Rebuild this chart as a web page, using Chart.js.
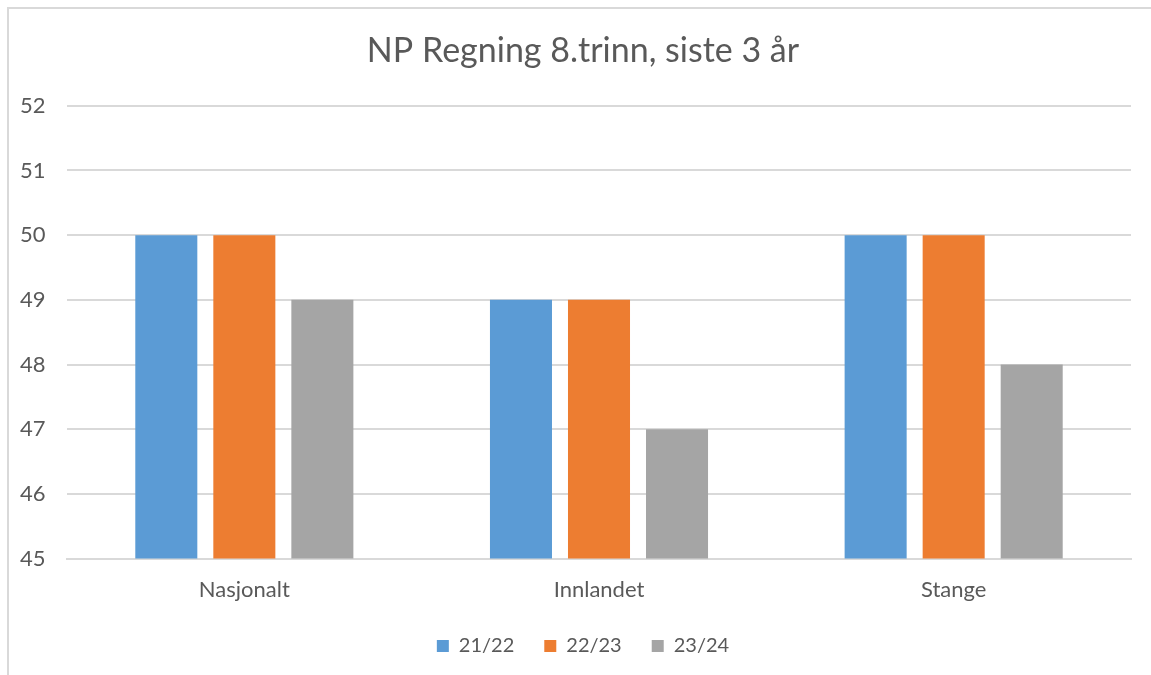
<!DOCTYPE html>
<html>
<head>
<meta charset="utf-8">
<script src="https://cdn.jsdelivr.net/npm/chart.js@4"></script>
<style>
  html, body { margin: 0; padding: 0; background: #fff; }
  #wrap { position: relative; width: 1151px; height: 675px; overflow: hidden; }
  #frame { position: absolute; left: 7px; top: 7px; width: 1200px; height: 700px;
           border-left: 2px solid #d9d9d9; border-top: 2px solid #d9d9d9; box-sizing: border-box; }
  #chart { position: absolute; left: 0; top: 0; }
</style>
</head>
<body>
<div id="wrap">
  <div id="frame"></div>
  <canvas id="chart" width="1151" height="675"></canvas>
</div>
<script>
// kategorier og serier
const categories = ['Nasjonalt', 'Innlandet', 'Stange'];
const seriesNames = ['21/22', '22/23', '23/24'];
const values2122 = [50, 49, 50];
const values2223 = [50, 49, 50];
const values2324 = [49, 47, 48];
const seriesColors = ['#5B9BD5', '#ED7D31', '#A5A5A5'];

const textColor = '#595959';
const gridColor = '#d9d9d9';
const fontFamily = 'Lato, "Open Sans", sans-serif';

const seriesValues = [values2122, values2223, values2324];

new Chart(document.getElementById('chart'), {
    type: 'bar',
    data: {
        labels: categories,
        datasets: seriesNames.map((name, i) => ({
            label: name,
            data: seriesValues[i],
            backgroundColor: seriesColors[i],
            borderWidth: 0,
            categoryPercentage: 0.66,
            barPercentage: 0.795
        }))
    },
    options: {
        responsive: false,
        animation: false,
        layout: { padding: { left: 35, right: 20, top: 0, bottom: 9 } },
        scales: {
            x: {
                grid: { display: false },
                border: { display: true, color: gridColor, width: 2 },
                ticks: { color: textColor, font: { family: fontFamily, size: 22 }, padding: 10 },
                afterFit(scale) { scale.height -= 7; }
            },
            y: {
                min: 45,
                max: 52,
                grid: { color: gridColor, lineWidth: 2, drawTicks: false },
                border: { display: false },
                // mirror + negativ padding: tallene havner til venstre for plottet uten å bli klippet
                ticks: { stepSize: 1, color: textColor, font: { family: fontFamily, size: 22 },
                         mirror: true, padding: -47 },
                afterFit(scale) { scale.width = 32; }
            }
        },
        plugins: {
            title: {
                display: true,
                text: 'NP Regning 8.trinn, siste 3 år',
                color: textColor,
                font: { family: fontFamily, size: 34, weight: 'normal' },
                padding: { top: 31, bottom: 34 }
            },
            legend: {
                position: 'bottom',
                labels: {
                    color: textColor,
                    font: { family: fontFamily, size: 20 },
                    boxWidth: 12,
                    boxHeight: 12,
                    padding: 30
                }
            },
            tooltip: { enabled: false }
        }
    }
});
</script>
</body>
</html>
